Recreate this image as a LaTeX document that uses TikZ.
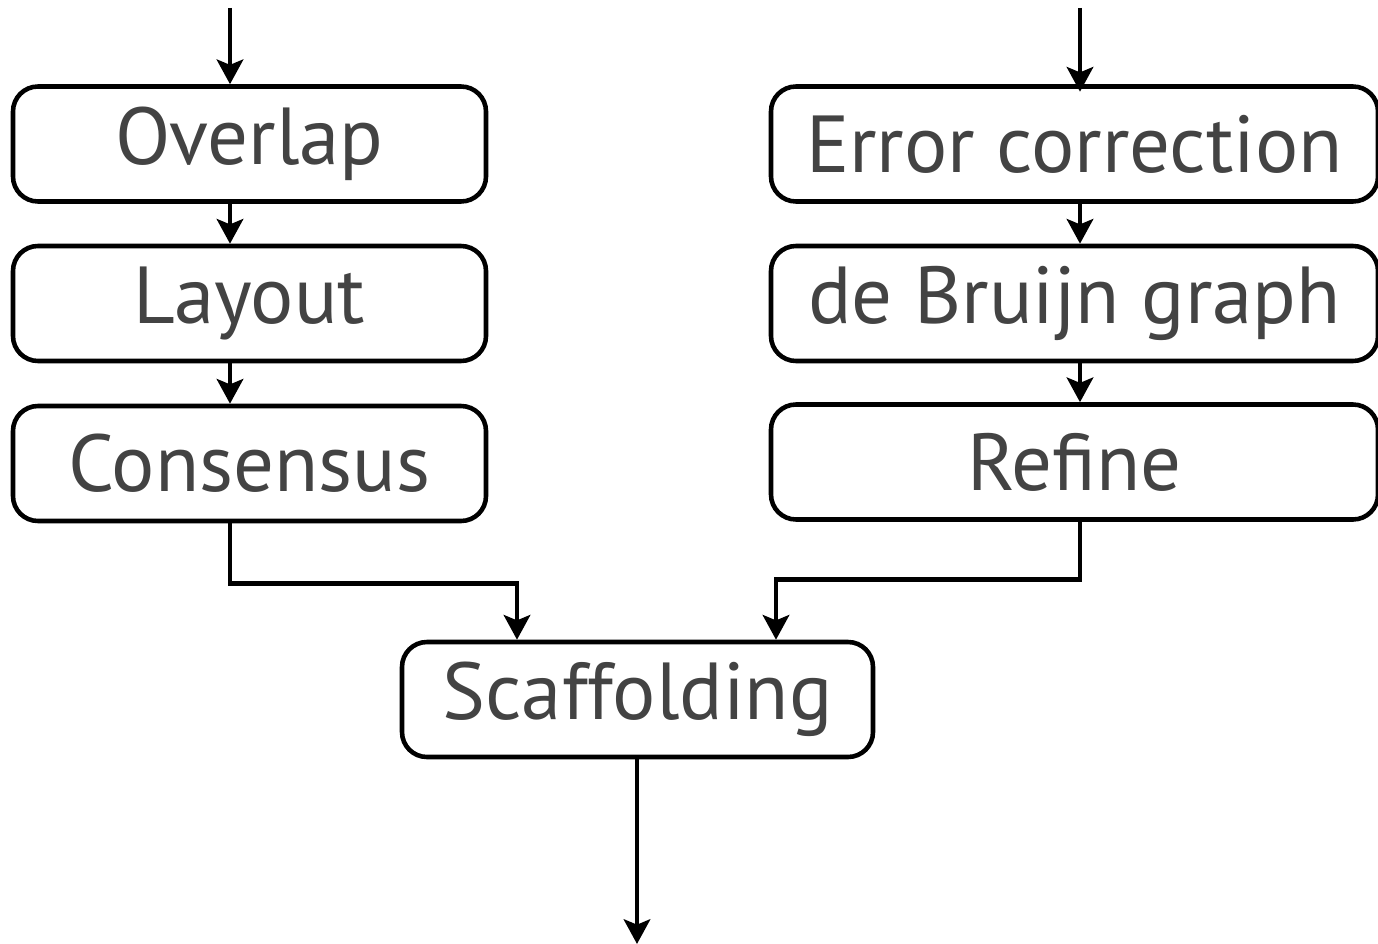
\documentclass[tikz,border=0pt]{standalone}
\usepackage{fontspec}
\setmainfont{PT Sans}
\usetikzlibrary{arrows.meta}
\tikzset{>/.tip={Stealth[length=14pt,width=15pt,inset=3pt]},
  stage/.style={draw, line width=2.6pt, rounded corners=0.5cm, inner sep=0pt,
    minimum height=2.3cm, text=textgray, font=\fontsize{46}{52}\selectfont},
  flow/.style={->, line width=2.8pt}}
\definecolor{textgray}{HTML}{434343}

\begin{document}
\begin{tikzpicture}
\useasboundingbox (0,0) rectangle (27.56,-18.88);
\node[stage, minimum width=9.46cm] (overlap) at (4.99,-2.88) {Overlap};
\node[stage, minimum width=9.46cm] (layout) at (4.99,-6.07) {Layout};
\node[stage, minimum width=9.46cm] (consensus) at (4.99,-9.27) {Consensus};
\node[stage, minimum width=12.14cm] (errcorr) at (21.49,-2.88) {Error correction};
\node[stage, minimum width=12.14cm] (debruijn) at (21.49,-6.07) {de Bruijn graph};
\node[stage, minimum width=12.14cm] (refine) at (21.49,-9.24) {Refine};
\node[stage, minimum width=9.42cm] (scaffold) at (12.75,-13.99) {Scaffolding};

\coordinate (inL) at (4.6,-0.16);
\coordinate (inR) at (21.6,-0.16);
\coordinate (outS) at (12.74,-18.88);

\draw[flow] (inL) -- (inL |- overlap.north);
\draw[flow] (inR) -- ([yshift=-1.5mm]inR |- errcorr.north);
\draw[flow] (inL |- overlap.south) -- (inL |- layout.north);
\draw[flow] (inL |- layout.south) -- (inL |- consensus.north);
\draw[flow] (inR |- errcorr.south) -- (inR |- debruijn.north);
\draw[flow] (inR |- debruijn.south) -- (inR |- refine.north);
\draw[flow] (inL |- consensus.south) -- ++(0,-1.2) -| ([xshift=-2.41cm]scaffold.north);
\draw[flow] (inR |- refine.south) -- ++(0,-1.15) -| ([xshift=2.77cm]scaffold.north);
\draw[flow] (scaffold.south -| outS) -- (outS);
\end{tikzpicture}
\end{document}
